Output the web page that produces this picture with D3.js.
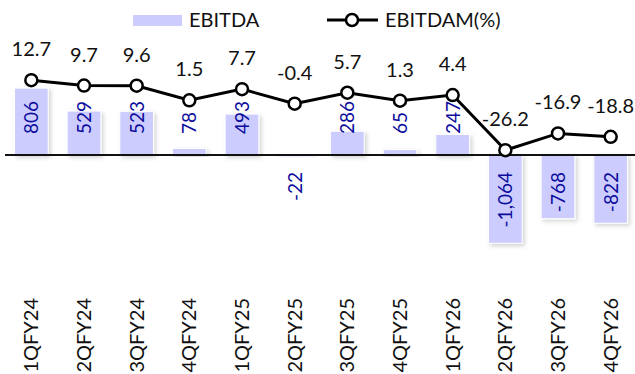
<!DOCTYPE html>
<html>
<head>
<meta charset="utf-8">
<script src="https://cdn.jsdelivr.net/npm/d3@7"></script>
<style>
  html, body { margin: 0; padding: 0; background: #fff; }
  svg { display: block; font-family: Lato, "Open Sans", sans-serif; }
</style>
</head>
<body>
<svg id="chart" width="635" height="374"></svg>
<script>
// Quarterly EBITDA (bars) and EBITDA margin in % (line)
const quarters = ["1QFY24", "2QFY24", "3QFY24", "4QFY24", "1QFY25", "2QFY25",
                  "3QFY25", "4QFY25", "1QFY26", "2QFY26", "3QFY26", "4QFY26"];
const ebitda = [806, 529, 523, 78, 493, -22, 286, 65, 247, -1064, -768, -822];
const ebitdaMargin = [12.7, 9.7, 9.6, 1.5, 7.7, -0.4, 5.7, 1.3, 4.4, -26.2, -16.9, -18.8];
const seriesNames = ["EBITDA", "EBITDAM(%)"];

const barFill = "#ccccff";
const barLabelColor = "#0d0d9c";

const svg = d3.select("#chart");

const defs = svg.append("defs");
const shadow = defs.append("filter").attr("id", "barShadow")
  .attr("x", "-30%").attr("y", "-30%").attr("width", "160%").attr("height", "160%");
shadow.append("feDropShadow")
  .attr("dx", 2).attr("dy", 2).attr("stdDeviation", 2)
  .attr("flood-color", "#000").attr("flood-opacity", 0.18);

const x = d3.scaleBand().domain(quarters).range([5, 637])
  .paddingInner(0.36).paddingOuter(0.18);

// primary axis (EBITDA) and secondary axis (margin %)
const yBar = d3.scaleLinear().domain([-1500, 1500]).range([279.5, 30.5]);
const yPct = d3.scaleLinear().domain([-40, 20]).range([175, 67]);

// thousands separator with a plain hyphen for negatives
const fmt = d3.formatLocale({ decimal: ".", thousands: ",", grouping: [3], currency: ["", ""], minus: "-" }).format(",");

// bars
svg.append("g").selectAll("rect").data(ebitda).join("rect")
  .attr("x", (d, i) => x(quarters[i]))
  .attr("width", x.bandwidth())
  .attr("y", d => yBar(Math.max(0, d)))
  .attr("height", d => Math.abs(yBar(d) - yBar(0)))
  .attr("fill", barFill)
  .attr("stroke", "#fff").attr("stroke-width", 1)
  .attr("filter", "url(#barShadow)");

// zero line
svg.append("line")
  .attr("x1", 5).attr("x2", 635)
  .attr("y1", yBar(0)).attr("y2", yBar(0))
  .attr("stroke", "#111").attr("stroke-width", 2);

// bar value labels, rotated
svg.append("g").selectAll("text").data(ebitda).join("text")
  .attr("transform", (d, i) => {
    const cx = x(quarters[i]) + x.bandwidth() / 2;
    const y = d >= 0 ? yBar(0) - 21 : yBar(0) + 17;
    return `translate(${cx + 7},${y}) rotate(-90)`;
  })
  .attr("text-anchor", d => d >= 0 ? "start" : "end")
  .attr("font-size", 19)
  .attr("fill", barLabelColor)
  .text(d => fmt(d));

// margin line
const line = d3.line()
  .x((d, i) => x(quarters[i]) + x.bandwidth() / 2)
  .y(d => yPct(d));

svg.append("path").datum(ebitdaMargin)
  .attr("d", line)
  .attr("fill", "none").attr("stroke", "#000").attr("stroke-width", 3);

svg.append("g").selectAll("circle").data(ebitdaMargin).join("circle")
  .attr("cx", (d, i) => x(quarters[i]) + x.bandwidth() / 2)
  .attr("cy", d => yPct(d))
  .attr("r", 6)
  .attr("fill", "#fff").attr("stroke", "#000").attr("stroke-width", 2.5);

svg.append("g").selectAll("text").data(ebitdaMargin).join("text")
  .attr("x", (d, i) => x(quarters[i]) + x.bandwidth() / 2)
  .attr("y", d => yPct(d) - 24)
  .attr("text-anchor", "middle")
  .attr("font-size", 20)
  .attr("fill", "#111")
  .text(d => d.toFixed(1));

// category labels
svg.append("g").selectAll("text").data(quarters).join("text")
  .attr("transform", d => `translate(${x(d) + x.bandwidth() / 2 + 7},298) rotate(-90)`)
  .attr("text-anchor", "end")
  .attr("font-size", 20)
  .attr("fill", "#111")
  .text(d => d);

// legend
const legend = svg.append("g");
legend.append("rect")
  .attr("x", 133).attr("y", 15).attr("width", 49).attr("height", 11)
  .attr("fill", barFill);
legend.append("text")
  .attr("x", 189).attr("y", 27).attr("font-size", 20).attr("fill", "#111")
  .text(seriesNames[0]);
legend.append("line")
  .attr("x1", 327).attr("x2", 378).attr("y1", 20).attr("y2", 20)
  .attr("stroke", "#000").attr("stroke-width", 3);
legend.append("circle")
  .attr("cx", 352).attr("cy", 20).attr("r", 6)
  .attr("fill", "#fff").attr("stroke", "#000").attr("stroke-width", 2.5);
legend.append("text")
  .attr("x", 385).attr("y", 27).attr("font-size", 20).attr("fill", "#111")
  .text(seriesNames[1]);
</script>
</body>
</html>
